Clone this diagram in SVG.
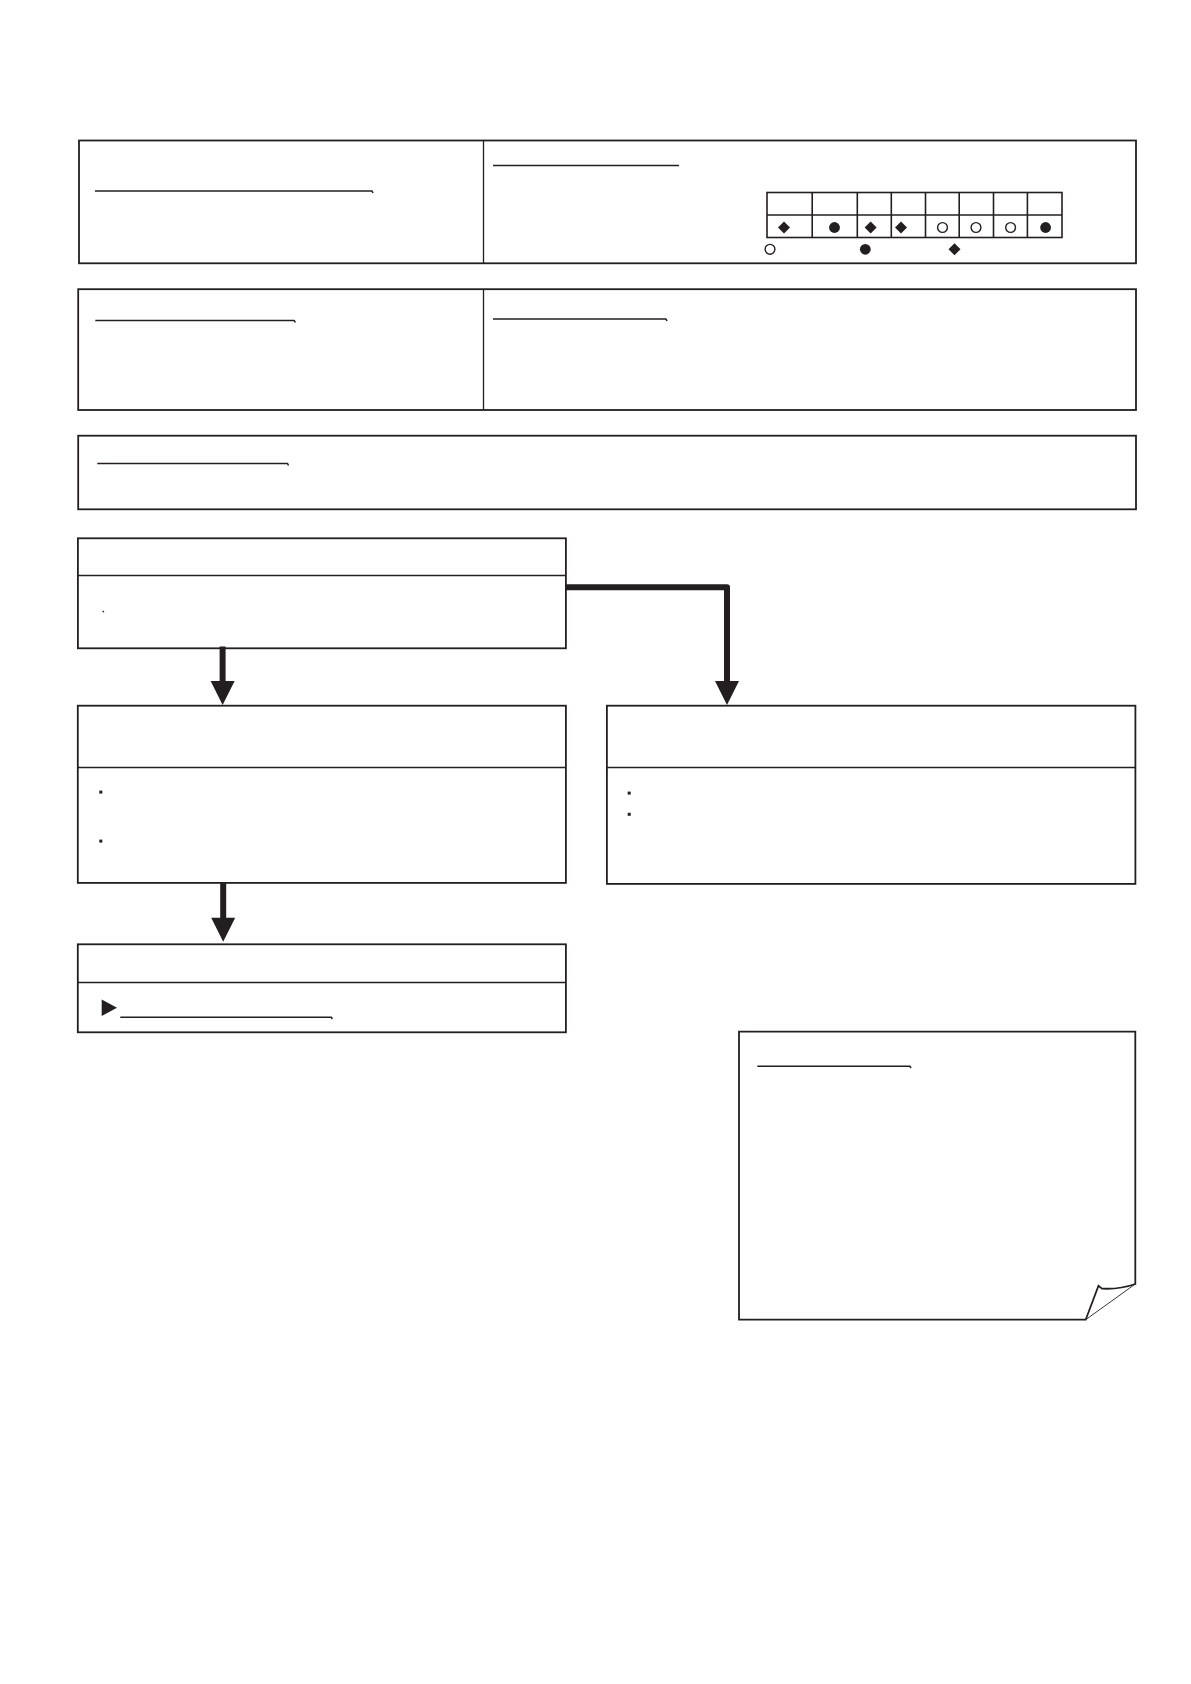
<svg xmlns="http://www.w3.org/2000/svg" width="1191" height="1684" viewBox="0 0 1191 1684">
<style>
.frame{fill:#ffffff;stroke:#231f20;stroke-width:1.8}
.div{fill:none;stroke:#231f20;stroke-width:1.3}
.ul{fill:none;stroke:#231f20;stroke-width:1.6;stroke-linejoin:round}
.thin{fill:none;stroke:#231f20;stroke-width:0.9}
.cell{fill:none;stroke:#231f20;stroke-width:1.6}
.solid{fill:#231f20;stroke:none}
.open{fill:#ffffff;stroke:#231f20;stroke-width:1.4}
.conn{fill:none;stroke:#231f20;stroke-width:6;stroke-linejoin:round}
</style>
<defs>
<marker id="head" markerUnits="userSpaceOnUse" viewBox="0 0 24 24" markerWidth="24" markerHeight="24" refX="4" refY="12" orient="auto" overflow="visible">
<path d="M0,0 L24,12 L0,24 Z" fill="#231f20"/>
</marker>
<path id="dia" d="M0,-6 L6,0 L0,6 L-6,0 Z"/>
</defs>
<rect width="1191" height="1684" fill="#ffffff"/>

<g id="panel-top">
<rect class="frame" x="79" y="140.5" width="1057" height="122.8"/>
<line class="div" x1="483.5" y1="140.5" x2="483.5" y2="263.3"/>
<path class="ul" d="M95,191 H372 L373,193"/>
<path class="ul" d="M493,165.5 H679"/>
<g id="legend-table">
<rect class="cell" x="767" y="192.5" width="295" height="45"/>
<line class="cell" x1="767" y1="215" x2="1062" y2="215"/>
<line class="cell" x1="812.2" y1="192.5" x2="812.2" y2="237.5"/>
<line class="cell" x1="857.3" y1="192.5" x2="857.3" y2="237.5"/>
<line class="cell" x1="891.3" y1="192.5" x2="891.3" y2="237.5"/>
<line class="cell" x1="925.5" y1="192.5" x2="925.5" y2="237.5"/>
<line class="cell" x1="959.2" y1="192.5" x2="959.2" y2="237.5"/>
<line class="cell" x1="993.5" y1="192.5" x2="993.5" y2="237.5"/>
<line class="cell" x1="1027.4" y1="192.5" x2="1027.4" y2="237.5"/>
<use href="#dia" class="solid" x="784" y="227.5"/>
<circle class="solid" cx="834.5" cy="227.5" r="5.4"/>
<use href="#dia" class="solid" x="870.6" y="227.5"/>
<use href="#dia" class="solid" x="901" y="227.5"/>
<circle class="open" cx="942.5" cy="227.5" r="4.9"/>
<circle class="open" cx="976" cy="227.5" r="4.9"/>
<circle class="open" cx="1010.6" cy="227.5" r="4.9"/>
<circle class="solid" cx="1045.6" cy="227.5" r="5.4"/>
<circle class="open" cx="770" cy="249.3" r="4.9"/>
<circle class="solid" cx="865.3" cy="249.3" r="5.4"/>
<use href="#dia" class="solid" x="954.5" y="249.3"/>
</g>
</g>

<g id="panel-second">
<rect class="frame" x="78.2" y="289.2" width="1057.8" height="120.8"/>
<line class="div" x1="483.5" y1="289.2" x2="483.5" y2="410"/>
<path class="ul" d="M95.3,320.5 H294.3 L295.3,322.5"/>
<path class="ul" d="M493,319 H666 L667,321"/>
</g>

<g id="panel-third">
<rect class="frame" x="78.2" y="435.7" width="1057.8" height="73.6"/>
<path class="ul" d="M97.3,463.5 H287.5 L288.5,465.5"/>
</g>

<g id="box-start">
<rect class="frame" x="77.9" y="538.3" width="488" height="110"/>
<line class="div" x1="77.9" y1="575.5" x2="565.9" y2="575.5"/>
<rect class="solid" x="102.6" y="610.8" width="1.5" height="1.5"/>
</g>

<g id="box-left">
<rect class="frame" x="77.8" y="705.7" width="488.1" height="177.2"/>
<line class="div" x1="77.8" y1="767.5" x2="565.9" y2="767.5"/>
<rect class="solid" x="99.3" y="790.6" width="3" height="3"/>
<rect class="solid" x="99.3" y="839.6" width="3" height="3"/>
</g>

<g id="box-right">
<rect class="frame" x="606.9" y="705.7" width="528.5" height="178.2"/>
<line class="div" x1="606.9" y1="767.5" x2="1135.4" y2="767.5"/>
<rect class="solid" x="627.7" y="791.6" width="3" height="3"/>
<rect class="solid" x="627.7" y="812.8" width="3" height="3"/>
</g>

<g id="box-bottom">
<rect class="frame" x="77.8" y="944.3" width="488.1" height="88"/>
<line class="div" x1="77.8" y1="982.5" x2="565.9" y2="982.5"/>
<path class="solid" d="M101.7,999.5 L117,1007.8 L101.7,1016 Z"/>
<path class="ul" d="M120.3,1017.2 H331.3 L332.3,1019"/>
</g>

<g id="note">
<path class="frame" d="M739,1031.7 H1135.3 V1284 Q1120,1289.5 1102,1288.6 L1098.5,1285.8 L1085.7,1319.7 H739 Z"/>
<line class="thin" x1="1085.7" y1="1319.7" x2="1135.3" y2="1284"/>
<path class="ul" d="M757.3,1066.3 H910 L911,1068"/>
</g>

<g id="connectors">
<path class="conn" d="M222.6,646.5 V685" marker-end="url(#head)"/>
<path class="conn" d="M566,587.3 H727 V685" marker-end="url(#head)"/>
<path class="conn" d="M223.2,882 V921.7" marker-end="url(#head)"/>
</g>
</svg>
